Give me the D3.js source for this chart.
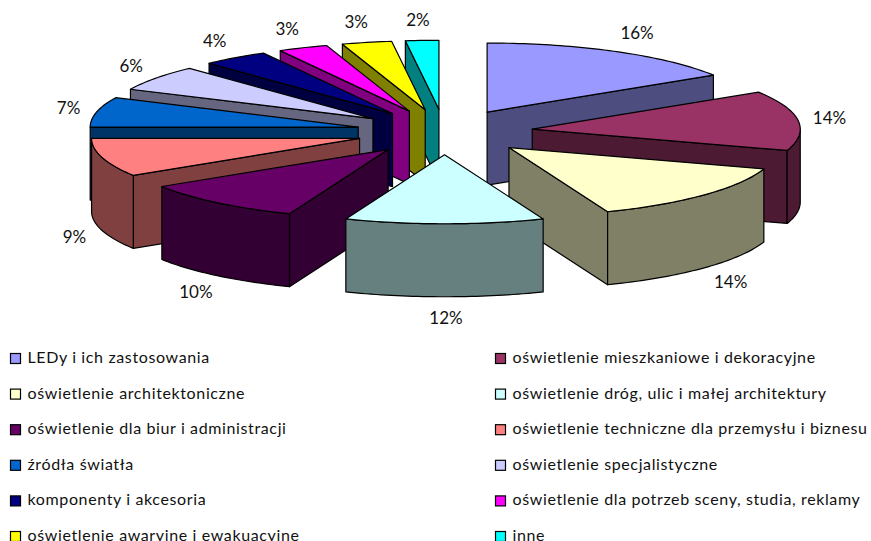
<!DOCTYPE html>
<html>

<head>
  <meta charset="utf-8">
  <title>Kategorie oświetlenia</title>
  <script src="https://d3js.org/d3.v7.min.js"></script>
  <style>
    html, body { margin: 0; padding: 0; background: #fff; overflow: hidden; }
    svg { display: block; }
    text { font-family: Lato, "Noto Sans", sans-serif; fill: #111; }
  </style>
</head>

<body>
  <script>
    const categories = [
      'LEDy i ich zastosowania',
      'oświetlenie mieszkaniowe i dekoracyjne',
      'oświetlenie architektoniczne',
      'oświetlenie dróg, ulic i małej architektury',
      'oświetlenie dla biur i administracji',
      'oświetlenie techniczne dla przemysłu i biznesu',
      'źródła światła',
      'oświetlenie specjalistyczne',
      'komponenty i akcesoria',
      'oświetlenie dla potrzeb sceny, studia, reklamy',
      'oświetlenie awaryjne i ewakuacyjne',
      'inne'
    ]
    const values = [16, 14, 14, 12, 10, 9, 7, 6, 4, 3, 3, 2]
    const colors = ['#9999ff', '#993366', '#ffffcc', '#ccffff', '#660066', '#ff8080',
      '#0066cc', '#ccccff', '#000080', '#ff00ff', '#ffff00', '#00ffff']

    const width = 871, height = 541
    const cx = 444.5, cy = 132, rx = 268, ry = 69, depth = 73, explode = 0.33

    const svg = d3
      .select('body')
      .append('svg')
      .attr('width', width)
      .attr('height', height)

    const pie = d3.pie().sort(null).value(d => d)
    const slices = pie(values).map((d, i) => {
      const mid = (d.startAngle + d.endAngle) / 2
      return {
        i, a: d.startAngle, b: d.endAngle, mid,
        ox: cx + explode * rx * Math.sin(mid),
        oy: cy - explode * ry * Math.cos(mid)
      }
    })

    const line = d3.line().x(d => d[0]).y(d => d[1])

    // point on the rim of a slice, dz pushes it down to the bottom face
    const rimPoint = (s, t, dz) => [s.ox + rx * Math.sin(t), s.oy - ry * Math.cos(t) + dz]
    const rimPoints = (s, a, b, dz) => {
      const n = Math.max(2, Math.ceil((b - a) / 0.02))
      return d3.range(n + 1).map(k => rimPoint(s, a + (b - a) * k / n, dz))
    }
    const half = c => {
      const r = d3.rgb(c)
      return d3.rgb(r.r / 2, r.g / 2, r.b / 2).formatHex()
    }

    const chart = svg.append('g')
      .attr('stroke', '#000')
      .attr('stroke-width', 1.2)
      .attr('stroke-linejoin', 'round')

    // back slices first
    const order = slices.slice().sort((p, q) => d3.descending(Math.cos(p.mid), Math.cos(q.mid)))

    order.forEach(s => {
      const g = chart.append('g')
      const dark = half(colors[s.i])

      // side walls that face the viewer
      const walls = []
      if (Math.sin(s.a) < -1e-6) walls.push(s.a)
      if (Math.sin(s.b) > 1e-6) walls.push(s.b)
      walls.forEach(t => {
        const p = rimPoint(s, t, 0)
        g.append('path')
          .attr('d', line([[s.ox, s.oy], p, [p[0], p[1] + depth], [s.ox, s.oy + depth]]) + 'Z')
          .attr('fill', dark)
      })

      // front part of the outer rim
      const ra = Math.max(s.a, Math.PI / 2), rb = Math.min(s.b, Math.PI * 1.5)
      if (rb > ra) {
        g.append('path')
          .attr('d', line(rimPoints(s, ra, rb, 0).concat(rimPoints(s, ra, rb, depth).reverse())) + 'Z')
          .attr('fill', dark)
      }

      g.append('path')
        .attr('d', line([[s.ox, s.oy]].concat(rimPoints(s, s.a, s.b, 0))) + 'Z')
        .attr('fill', colors[s.i])
    })

    // percent labels
    const spow = (v, e) => Math.sign(v) * Math.pow(Math.abs(v), e)
    svg.append('g')
      .selectAll('text')
      .data(slices)
      .enter()
      .append('text')
      .attr('x', s => rimPoint(s, s.mid, 0)[0] + 1.5 + 30 * spow(Math.sin(s.mid), 0.6))
      .attr('y', s => rimPoint(s, s.mid, Math.cos(s.mid) < 0 ? depth : 0)[1] - 21 * Math.cos(s.mid))
      .attr('dy', '0.36em')
      .attr('text-anchor', 'middle')
      .attr('font-size', 17)
      .text(s => values[s.i] + '%')

    // legend, two columns
    const rowY = d3.scaleLinear().domain([0, 5]).range([359, 537])
    const colX = d3.scaleOrdinal().domain([0, 1]).range([10, 495])

    const legend = svg.append('g')
      .selectAll('g')
      .data(categories)
      .enter()
      .append('g')
      .attr('transform', (d, i) => `translate(${colX(i % 2)},${rowY(Math.floor(i / 2))})`)

    legend.append('rect')
      .attr('x', 0.5)
      .attr('y', -5.5)
      .attr('width', 10)
      .attr('height', 10)
      .attr('fill', (d, i) => colors[i])
      .attr('stroke', '#000')
      .attr('stroke-width', 1.2)

    legend.append('text')
      .attr('x', 17.5)
      .attr('y', 4)
      .attr('font-size', 16)
      .attr('letter-spacing', 0.63)
      .text(d => d)
  </script>
</body>

</html>
